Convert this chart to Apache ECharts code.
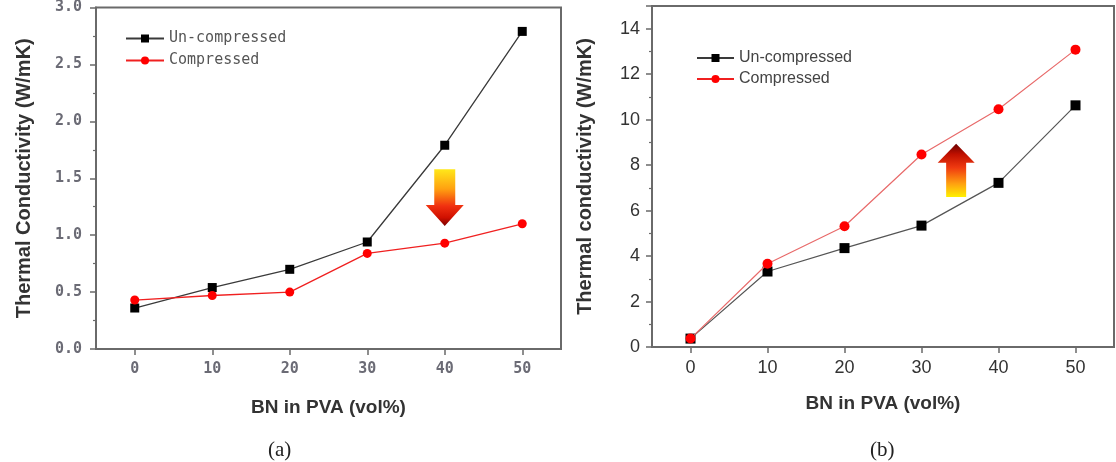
<!DOCTYPE html>
<html>
<head>
<meta charset="utf-8">
<script src="https://cdn.jsdelivr.net/npm/echarts@6/dist/echarts.min.js"></script>
<style>
html,body{margin:0;padding:0;background:#fff;}
#main{width:1116px;height:462px;}
</style>
</head>
<body>
<div id="main"></div>
<script>
// ---- data ----
const xValues = [0, 10, 20, 30, 40, 50];
const aUncompressed = [0.36, 0.54, 0.70, 0.94, 1.79, 2.79];
const aCompressed = [0.43, 0.47, 0.50, 0.84, 0.93, 1.10];
const bUncompressed = [0.37, 3.32, 4.35, 5.34, 7.22, 10.63];
const bCompressed = [0.37, 3.66, 5.31, 8.47, 10.46, 13.08];
const seriesNames = ['Un-compressed', 'Compressed'];
const xTickValues = [0, 10, 20, 30, 40, 50];
const xTitle = 'BN in PVA (vol%)';
const yTitleA = 'Thermal Conductivity (W/mK)';
const yTitleB = 'Thermal conductivity (W/mK)';
const captions = ['(a)', '(b)'];
// arrow anchors in data space: [x, yStart(tail), yTip]
const arrowA = [40, 1.58, 1.08];
const arrowB = [34.5, 6.6, 8.94];

const SANS = '"Liberation Sans", Arial, sans-serif';
const MONO = '"DejaVu Sans Mono", monospace';

function pairs(vals) { return xValues.map((x, i) => [x, vals[i]]); }

const chart = echarts.init(document.getElementById('main'), null, {renderer: 'canvas'});

const axisGray = '#6a6a6a';

function xAxisDef(gridIndex, labelStyle, gap) {
  return {
    type: 'value', gridIndex, min: -5, max: 55,
    name: xTitle, nameLocation: 'middle', nameGap: gap,
    nameTextStyle: {fontFamily: SANS, fontWeight: 'bold', fontSize: 19, color: '#333'},
    axisLine: {show: true, onZero: false, lineStyle: {color: axisGray, width: 2}},
    axisTick: {show: true, inside: false, length: 6, customValues: xTickValues, lineStyle: {color: axisGray, width: 1.5}},
    axisLabel: Object.assign({customValues: xTickValues}, labelStyle),
    splitLine: {show: false}
  };
}

function yAxisDef(gridIndex, max, interval, title, gap, labelStyle) {
  return {
    type: 'value', gridIndex, min: 0, max, interval,
    name: title, nameLocation: 'middle', nameGap: gap, nameRotate: 90,
    nameTextStyle: {fontFamily: SANS, fontWeight: 'bold', fontSize: 20, color: '#333'},
    axisLine: {show: true, onZero: false, lineStyle: {color: axisGray, width: 2}},
    axisTick: {show: true, length: 6, lineStyle: {color: axisGray, width: 1.5}},
    minorTick: {show: true, splitNumber: 2, length: 3, lineStyle: {color: axisGray, width: 1.2}},
    axisLabel: labelStyle,
    splitLine: {show: false}
  };
}

const option = {
  animation: false,
  backgroundColor: '#fff',
  grid: [
    {left: 96, top: 5, width: 465, height: 344, show: true, borderColor: axisGray, borderWidth: 2, backgroundColor: 'transparent'},
    {left: 652, top: 6, width: 462, height: 341, show: true, borderColor: axisGray, borderWidth: 2, backgroundColor: 'transparent'}
  ],
  legend: [
    {
      data: seriesNames, orient: 'vertical', left: 125, top: 31, padding: 0,
      itemWidth: 38, itemHeight: 10, itemGap: 7,
      textStyle: {fontFamily: MONO, fontSize: 15, color: '#555'},
      selectedMode: false
    },
    {
      data: seriesNames, orient: 'vertical', left: 696, top: 50, padding: 0,
      itemWidth: 37, itemHeight: 10, itemGap: 5,
      textStyle: {fontFamily: SANS, fontSize: 16, color: '#444'},
      selectedMode: false
    }
  ],
  xAxis: [
    xAxisDef(0, {margin: 13, fontFamily: MONO, fontWeight: 'bold', fontSize: 15, color: '#6b6b75'}, 49),
    xAxisDef(1, {margin: 12, fontFamily: SANS, fontSize: 18, color: '#333'}, 47)
  ],
  yAxis: [
    yAxisDef(0, 3, 0.5, yTitleA, 62,
      {margin: 14, fontFamily: MONO, fontWeight: 'bold', fontSize: 15, color: '#6b6b75', formatter: v => v.toFixed(1)}),
    yAxisDef(1, 15, 2, yTitleB, 57,
      {margin: 12, fontFamily: SANS, fontSize: 18, color: '#333', showMaxLabel: false})
  ],
  series: [
    {
      name: seriesNames[0], type: 'line', xAxisIndex: 0, yAxisIndex: 0,
      data: pairs(aUncompressed), symbol: 'rect', symbolSize: 9,
      itemStyle: {color: '#000'}, lineStyle: {color: '#3a3a3a', width: 1.3}, z: 3
    },
    {
      name: seriesNames[1], type: 'line', xAxisIndex: 0, yAxisIndex: 0,
      data: pairs(aCompressed), symbol: 'circle', symbolSize: 9,
      itemStyle: {color: '#ff0000'}, lineStyle: {color: '#f02020', width: 1.3}, z: 4
    },
    {
      name: seriesNames[0], type: 'line', xAxisIndex: 1, yAxisIndex: 1,
      data: pairs(bUncompressed), symbol: 'rect', symbolSize: 10,
      itemStyle: {color: '#000'}, lineStyle: {color: '#555', width: 1.2}, z: 3
    },
    {
      name: seriesNames[1], type: 'line', xAxisIndex: 1, yAxisIndex: 1,
      data: pairs(bCompressed), symbol: 'circle', symbolSize: 10,
      itemStyle: {color: '#ff0000'}, lineStyle: {color: '#e86a6a', width: 1.2}, z: 4
    }
  ]
};

chart.setOption(option);

function arrowPolygon(gridIdx, anchor, shaftW, headW, headLen, colors) {
  const tail = chart.convertToPixel({gridIndex: gridIdx}, [anchor[0], anchor[1]]);
  const tip = chart.convertToPixel({gridIndex: gridIdx}, [anchor[0], anchor[2]]);
  const cx = tail[0];
  const dir = tip[1] > tail[1] ? 1 : -1;
  const baseY = tip[1] - dir * headLen;
  const pts = [
    [cx - shaftW / 2, tail[1]], [cx + shaftW / 2, tail[1]],
    [cx + shaftW / 2, baseY], [cx + headW / 2, baseY],
    [cx, tip[1]],
    [cx - headW / 2, baseY], [cx - shaftW / 2, baseY]
  ];
  return {
    type: 'polygon', z: 10,
    shape: {points: pts},
    style: {
      fill: {
        type: 'linear', x: 0, y: 0, x2: 0, y2: 1, global: false,
        colorStops: colors
      }
    }
  };
}

const downColors = [
  {offset: 0, color: '#ffe81a'}, {offset: 0.35, color: '#ffa010'},
  {offset: 0.65, color: '#f03010'}, {offset: 0.85, color: '#d01000'}, {offset: 1, color: '#7a0000'}
];
const upColors = [
  {offset: 0, color: '#6a0000'}, {offset: 0.2, color: '#c01000'},
  {offset: 0.45, color: '#f03a10'}, {offset: 0.75, color: '#ffa010'}, {offset: 1, color: '#fff000'}
];

chart.setOption({
  graphic: [
    arrowPolygon(0, arrowA, 21, 38, 21, downColors),
    arrowPolygon(1, arrowB, 20, 37, 19, upColors),
    {type: 'text', left: 268, top: 440, z: 10,
      style: {text: captions[0], font: '21px "Liberation Serif", "Times New Roman", serif', fill: '#222'}},
    {type: 'text', left: 870, top: 440, z: 10,
      style: {text: captions[1], font: '21px "Liberation Serif", "Times New Roman", serif', fill: '#222'}}
  ]
});
</script>
</body>
</html>
